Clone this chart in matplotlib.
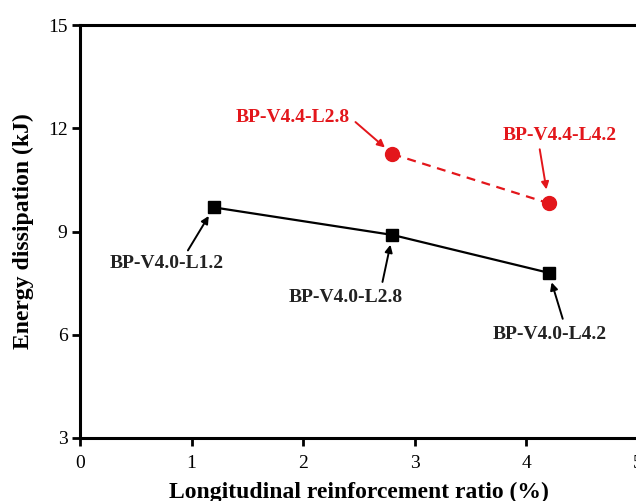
import matplotlib
matplotlib.use("Agg")
import matplotlib.pyplot as plt

plt.rcParams['font.family'] = ['Liberation Serif', 'DejaVu Serif']

# data
ratio_v40 = [1.2, 2.8, 4.2]
energy_v40 = [9.7, 8.9, 7.8]
labels_v40 = ['BP-V4.0-L1.2', 'BP-V4.0-L2.8', 'BP-V4.0-L4.2']

ratio_v44 = [2.8, 4.2]
energy_v44 = [11.25, 9.82]
labels_v44 = ['BP-V4.4-L2.8', 'BP-V4.4-L4.2']

xticks = [0, 1, 2, 3, 4, 5]
yticks = [3, 6, 9, 12, 15]

red = '#e3161b'

fig = plt.figure(figsize=(6.36, 5.01), dpi=100)
ax = fig.add_axes([80 / 636, 63 / 501, 558 / 636, 413 / 501])

ax.plot(ratio_v40, energy_v40, color='black', lw=1.6, marker='s', ms=8.5, zorder=3)
ax.plot(ratio_v44, energy_v44, color=red, lw=1.6, ls=(0, (4, 3)), marker='o', ms=10,
        zorder=3)

# label layout: text offset, arrow tail offset, gap to marker (pixels)
text_off = [(-47, -56), (-47, -63), (1, -62)]
tail_off = [(-26, -43), (-10, -47), (14, -46)]
gap = [10, 10, 10]
for x, y, lab, t, a, g in zip(ratio_v40, energy_v40, labels_v40, text_off, tail_off, gap):
    ax.annotate('', xy=(x, y), xytext=a, textcoords='offset pixels',
                arrowprops=dict(arrowstyle='-|>', color='black', lw=1.4,
                                mutation_scale=11, shrinkA=0, shrinkB=g * 0.72))
    ax.annotate(lab, xy=(x, y), xytext=t, textcoords='offset pixels',
                ha='center', va='center', fontsize=14, fontweight='bold', color='#222222')

text_off = [(-100, 37), (11, 68)]
tail_off = [(-37, 32), (-9, 54)]
gap = [10, 14]
for x, y, lab, t, a, g in zip(ratio_v44, energy_v44, labels_v44, text_off, tail_off, gap):
    ax.annotate('', xy=(x, y), xytext=a, textcoords='offset pixels',
                arrowprops=dict(arrowstyle='-|>', color=red, lw=1.4,
                                mutation_scale=11, shrinkA=0, shrinkB=g * 0.72))
    ax.annotate(lab, xy=(x, y), xytext=t, textcoords='offset pixels',
                ha='center', va='center', fontsize=14, fontweight='bold', color=red)

ax.set_xlim(0, 5)
ax.set_ylim(3, 15)
ax.set_xticks(xticks)
ax.set_yticks(yticks)
ax.tick_params(direction='out', length=6, width=2, labelsize=14, pad=3)
ax.tick_params(axis='x', pad=6)
for s in ax.spines.values():
    s.set_linewidth(2.2)

ax.set_xlabel('Longitudinal reinforcement ratio (%)', fontsize=17, fontweight='bold',
              labelpad=7)
ax.set_ylabel('Energy dissipation (kJ)', fontsize=17, fontweight='bold', labelpad=10)

fig.savefig('out.png', dpi=100)
